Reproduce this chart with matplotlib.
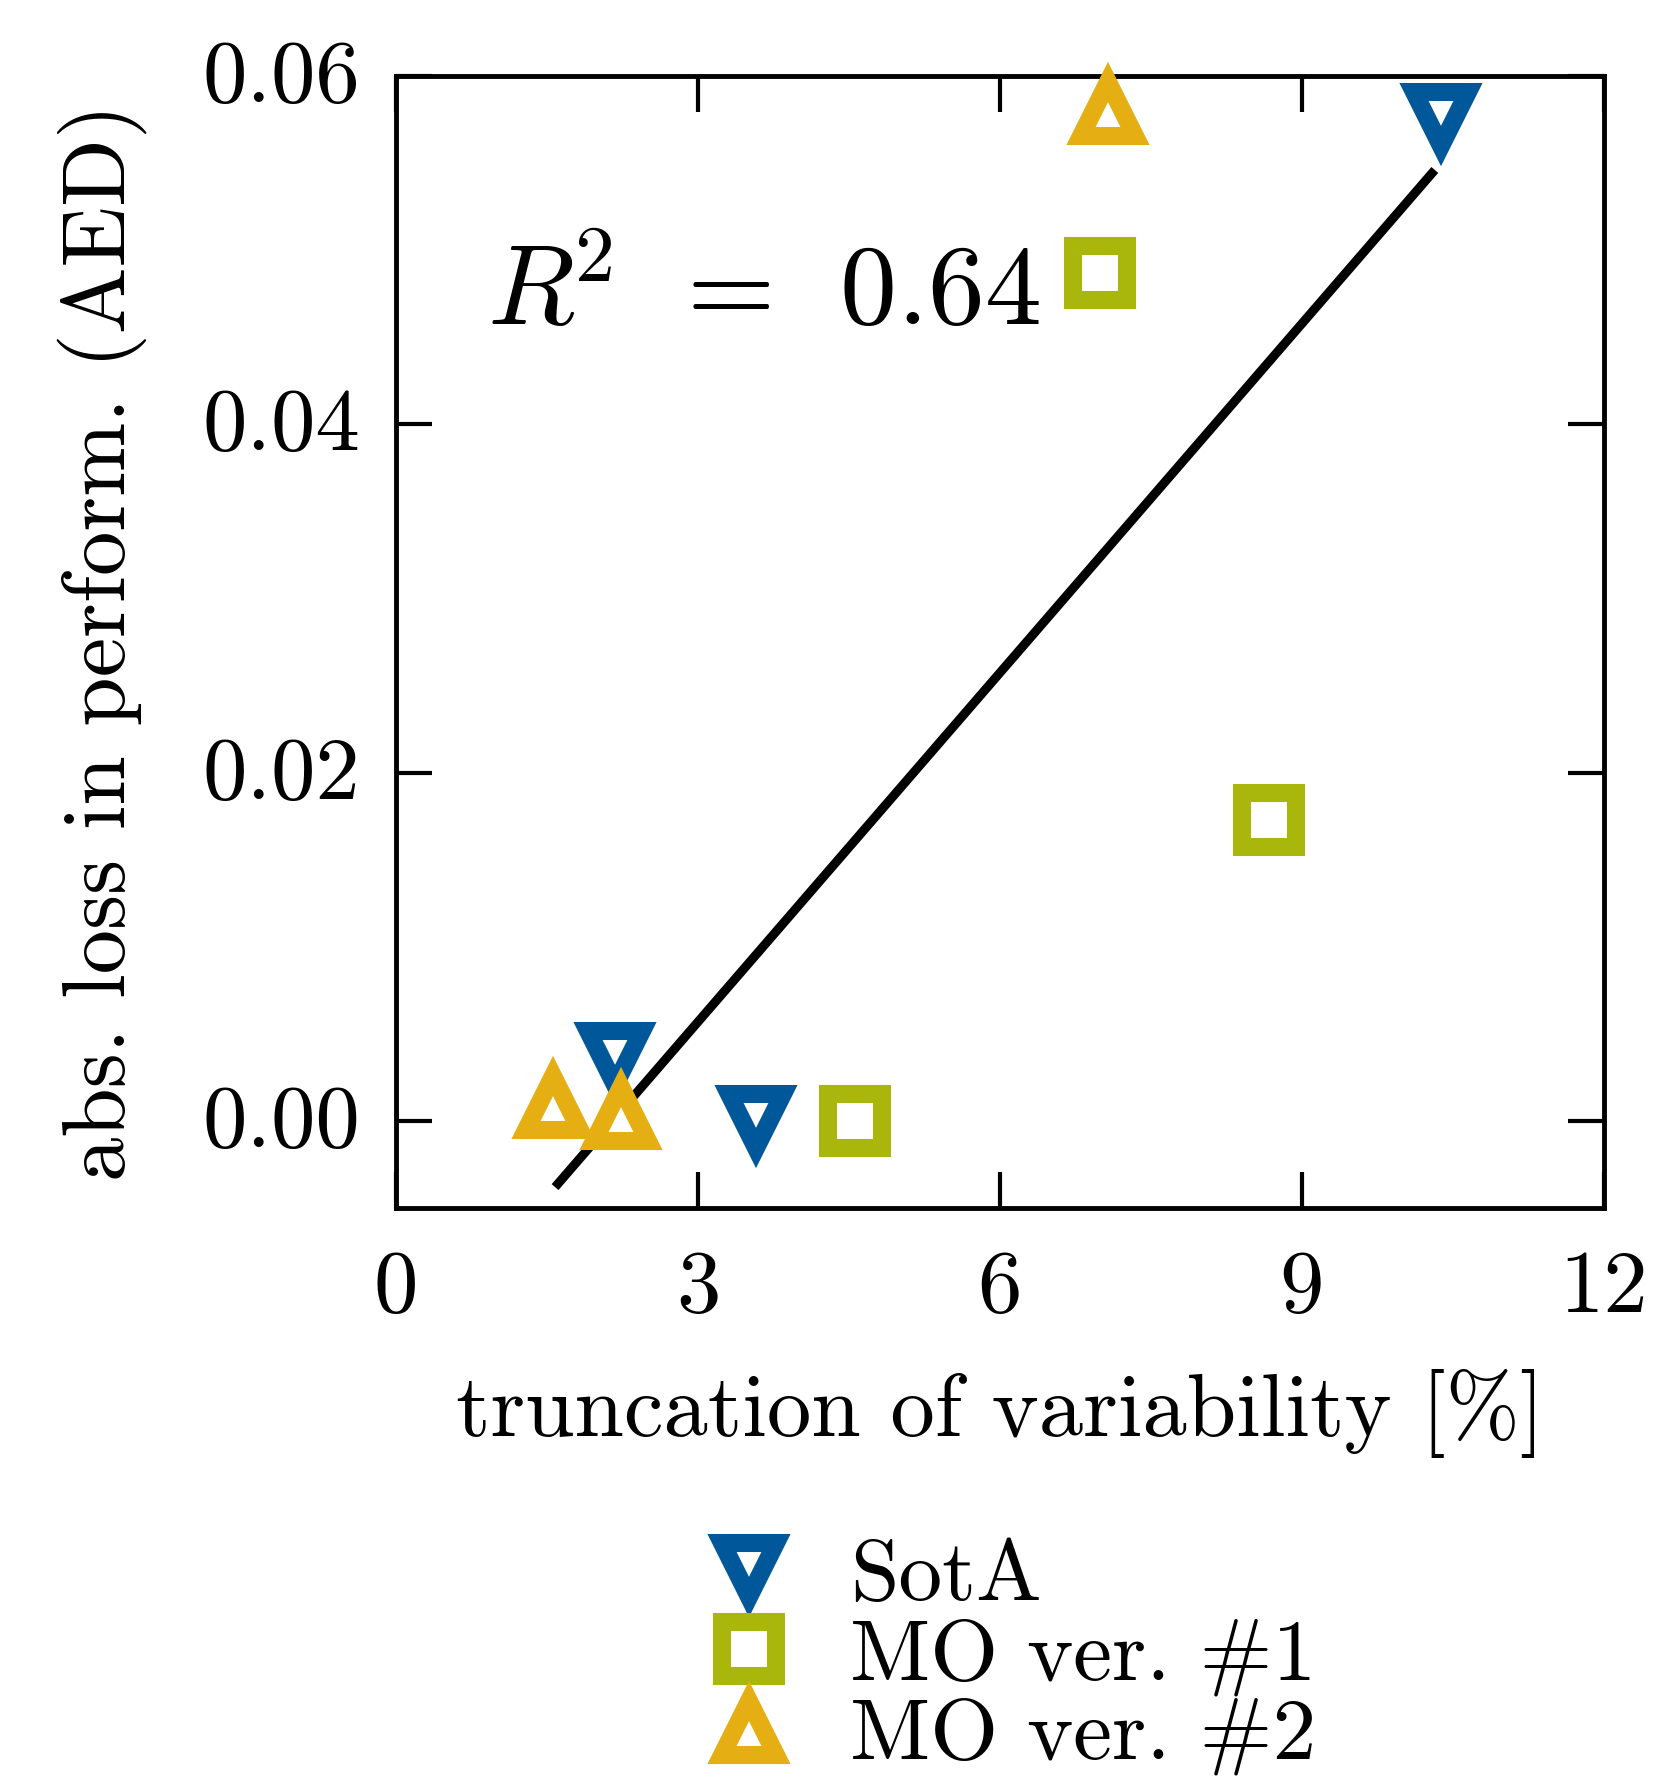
import matplotlib
matplotlib.use("Agg")
import matplotlib.pyplot as plt
from matplotlib.transforms import ScaledTranslation

plt.rcParams['font.family'] = 'serif'
plt.rcParams['font.serif'] = ['cmr10']
plt.rcParams['mathtext.fontset'] = 'cm'
plt.rcParams['axes.unicode_minus'] = False
plt.rcParams['axes.formatter.use_mathtext'] = True

# values
sota_x = [2.18, 3.58, 10.38]
sota_y = [0.0036, 0.0, 0.0575]
mo1_x = [4.56, 6.99, 8.67]
mo1_y = [0.0, 0.0487, 0.0173]
mo2_x = [1.56, 2.23, 7.07]
mo2_y = [0.001, 0.0004, 0.0581]
fit_x = [1.58, 10.32]
fit_y = [-0.0038, 0.0546]
r2 = 0.64

xticks = [0, 3, 6, 9, 12]
yticks = [0.00, 0.02, 0.04, 0.06]

blue = '#00589B'
green = '#A9B60B'
yellow = '#E5AE13'

fs = 64
ms = 39
mew = 13

fig = plt.figure(figsize=(16.53, 17.78), dpi=100)
ax = fig.add_axes([0.2396, 0.3206, 0.7307, 0.6367])

ax.plot(fit_x, fit_y, color='black', lw=6.5, zorder=2, solid_capstyle='butt')
ax.plot(sota_x, sota_y, ls='none', marker='v', ms=ms, mew=mew, mec=blue, mfc='white',
        clip_on=False, zorder=3, label='SotA')
ax.plot(mo1_x, mo1_y, ls='none', marker='s', ms=ms, mew=mew, mec=green, mfc='white',
        clip_on=False, zorder=3, label='MO ver. #1')
ax.plot(mo2_x, mo2_y, ls='none', marker='^', ms=ms, mew=mew, mec=yellow, mfc='white',
        clip_on=False, zorder=4, label='MO ver. #2')

ax.text(0.90, 0.0457, r'$R^{\!2}\;\,=\;\,%.2f$' % r2, fontsize=82, ha='left', va='baseline')

ax.set_xlim(0, 12)
ax.set_ylim(-0.005, 0.06)
ax.set_xticks(xticks)
ax.set_xticklabels([str(t) for t in xticks])
ax.set_yticks(yticks)
ax.set_yticklabels(['%.2f' % t for t in yticks])
ax.tick_params(direction='in', length=26, width=3, labelsize=fs,
               top=True, right=True)
ax.tick_params(axis='x', pad=30)
ax.tick_params(axis='y', pad=26)
# digits sit a little above the tick in the original
nudge = ScaledTranslation(0, 0.05, fig.dpi_scale_trans)
for lab in ax.get_yticklabels():
    lab.set_va('center_baseline')
    lab.set_transform(lab.get_transform() + nudge)
for s in ax.spines.values():
    s.set_linewidth(3.5)

ax.set_xlabel('truncation of variability [%]', fontsize=fs, labelpad=29)
ax.set_ylabel('abs. loss in perform. (AED)', fontsize=fs, labelpad=40)

h, l = ax.get_legend_handles_labels()
fig.legend(h, l, loc='upper left', bbox_to_anchor=(714 / 1653, 1 - 1539 / 1778),
           frameon=False, fontsize=63, borderpad=0, borderaxespad=0,
           handlelength=0.8, handletextpad=0.76, labelspacing=0.01, numpoints=1)

fig.savefig('out.png', dpi=100)
